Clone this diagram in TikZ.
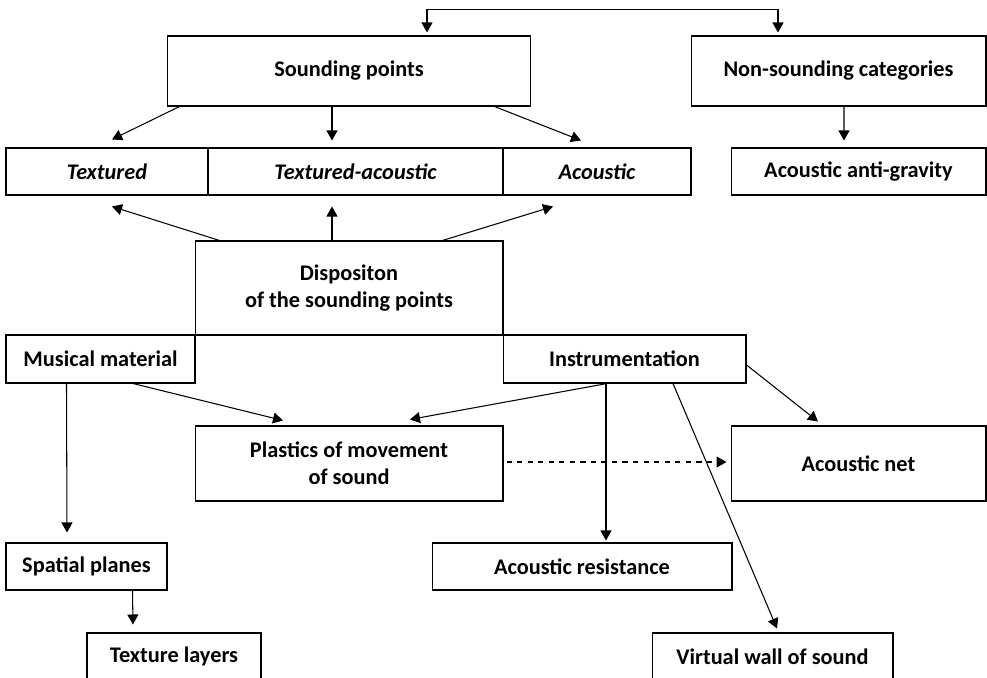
\documentclass[tikz,border=0pt]{standalone}
\usepackage{fontspec}
\setmainfont{Carlito}
\usetikzlibrary{arrows.meta,calc}

\begin{document}
\begin{tikzpicture}[x=0.02cm, y=-0.02cm, line width=0.6pt,
  >={Triangle[length=2mm,width=2.2mm]},
  box/.style={draw, rectangle, inner sep=0pt, align=center,
    font=\fontsize{12.7}{15.4}\selectfont\bfseries}]
  \useasboundingbox (0,0) rectangle (987,678);
  \clip (0,0) rectangle (987,678);

  % categories
  \node[box, minimum width=7.28cm, minimum height=1.4cm] (sp) at (349,71) {Sounding points};
  \node[box, minimum width=5.9cm, minimum height=1.4cm] (ns) at (838.5,71) {Non-sounding categories};
  \node[box, minimum width=4.04cm, minimum height=0.94cm] (tx) at (107,171.5) {\itshape Textured};
  \node[box, minimum width=5.9cm, minimum height=0.94cm] (ta) at (355.5,171.5) {\itshape Textured-acoustic};
  \node[box, minimum width=3.76cm, minimum height=0.94cm] (ac) at (597,171.5) {\itshape Acoustic};
  \node[box, minimum width=5.1cm, minimum height=0.94cm] (ag) at (858.5,171.5) {Acoustic anti-gravity};

  \node[box, minimum width=6.16cm, minimum height=1.88cm] (dp) at (349,288) {Dispositon\\of the sounding points};
  \node[box, minimum width=3.78cm, minimum height=0.96cm] (mm) at (100.5,359) {Musical material};
  \node[box, minimum width=4.86cm, minimum height=0.96cm] (in) at (624.5,359) {Instrumentation};

  \node[box, minimum width=6.16cm, minimum height=1.5cm] (pl) at (349,463.5) {Plastics of movement\\of sound};
  \node[box, minimum width=5.1cm, minimum height=1.5cm] (an) at (858.5,463.5) {Acoustic net};
  \node[box, minimum width=3.22cm, minimum height=0.94cm] (spl) at (86.5,566.5) {Spatial planes};
  \node[box, minimum width=6cm, minimum height=0.94cm] (ar) at (582,566.5) {Acoustic resistance};
  \node[box, minimum width=3.48cm, minimum height=0.94cm] (tl) at (174,656.5) {Texture layers};
  \node[box, minimum width=4.82cm, minimum height=0.94cm] (vw) at (772.5,656.5) {Virtual wall of sound};

  % top link
  \draw[<->] ($(sp.north)+(78,-3)$) -- ++(0,-23) -| ($(ns.north)+(-60.5,-3)$);

  \draw[->] ($(sp.south west)+(13,0)$) -- ($(tx.north)+(5,-8)$);
  \draw[->] ($(sp.south)+(-17,0)$) -- ($(ta.north)+(-23.5,-7)$);
  \draw[->] ($(sp.south east)+(-37,0)$) -- ($(ac.north)+(-16,-7)$);
  \draw[->] ($(ns.south)+(5.5,0)$) -- ($(ag.north)+(-14.5,-7)$);

  \draw[->] ($(dp.north west)+(25,0)$) -- ($(tx.south)+(5,11)$);
  \draw[->] ($(dp.north)+(-17,0)$) -- ($(ta.south)+(-23.5,11)$);
  \draw[->] ($(dp.north east)+(-61,0)$) -- ($(ac.south)+(-44,11)$);

  \draw[->] ($(mm.south west)+(61,0)$) -- ($(spl.north)+(-19.5,-10)$);
  \draw[->] ($(spl.south west)+(127,0)$) -- ($(tl.north)+(-41,-8)$);
  \draw[->] ($(mm.south)+(32.5,0)$) -- ($(pl.north)+(-66,-5)$);

  \draw[->] ($(in.south)+(-17.5,0)$) -- ($(pl.north)+(61,-6)$);
  \draw[->] ($(in.south)+(-18.5,0)$) -- ($(ar.north)+(24,-2)$);
  \draw[->] ($(in.south)+(48.5,0)$) -- ($(vw.north)+(4.5,-4)$);
  \draw[->] ($(in.east)+(0,6)$) -- ($(an.north)+(-40.5,-4)$);

  \draw[->, dashed] ($(pl.east)+(3,-1.5)$) -- ($(an.west)+(-4,-1.5)$);
\end{tikzpicture}
\end{document}
